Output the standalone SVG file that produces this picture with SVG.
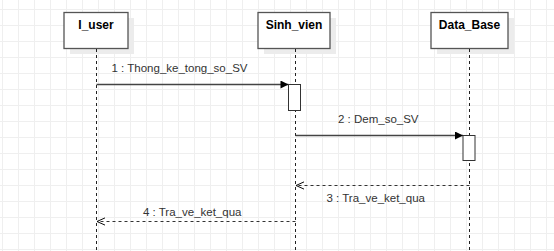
<svg xmlns="http://www.w3.org/2000/svg" width="554" height="251" viewBox="0 0 554 251">
  <defs>
    <pattern id="grid" x="2" y="9" width="16" height="16" patternUnits="userSpaceOnUse">
      <path d="M0.5 0 V16 M0 0.5 H16" fill="none" stroke="#efefef" stroke-width="1"/>
    </pattern>
    <marker id="filled" viewBox="0 0 10 10" refX="10" refY="5" markerWidth="9" markerHeight="8" markerUnits="userSpaceOnUse" orient="auto">
      <path d="M0 0 L10 5 L0 10 Z" fill="#000"/>
    </marker>
    <marker id="open" viewBox="0 0 10 10" refX="10" refY="5" markerWidth="8" markerHeight="9" markerUnits="userSpaceOnUse" orient="auto">
      <path d="M0 0.5 L10 5 L0 9.5" fill="none" stroke="#000" stroke-width="1.2"/>
    </marker>
  </defs>
  <style>
    .head { fill: #fff; stroke: #555; stroke-width: 1.3; }
    .shadow { fill: #ececec; }
    .title { font-family: "Liberation Sans", Arial, sans-serif; font-size: 12px; font-weight: bold; fill: #000; text-anchor: middle; }
    .life { stroke: #222; stroke-width: 1; stroke-dasharray: 3 3; fill: none; }
    .act { fill: #fff; stroke: #333; stroke-width: 1; }
    .msg { stroke: #444; stroke-width: 1.4; fill: none; }
    .ret { stroke: #333; stroke-width: 1; stroke-dasharray: 3 3; fill: none; }
    .label { font-family: "Liberation Sans", Arial, sans-serif; font-size: 11.5px; fill: #333; }
  </style>

  <rect width="554" height="251" fill="#fff"/>
  <rect width="554" height="251" fill="url(#grid)"/>

  <!-- lifeline heads -->
  <g id="I_user">
    <rect class="shadow" x="70" y="18" width="64" height="36"/>
    <rect class="head" x="64" y="12.5" width="64" height="36"/>
    <text class="title" x="96" y="28.5">I_user</text>
    <line class="life" x1="96.5" y1="49" x2="96.5" y2="251"/>
  </g>
  <g id="Sinh_vien">
    <rect class="shadow" x="264" y="18" width="72" height="36"/>
    <rect class="head" x="258" y="12.5" width="72" height="36"/>
    <text class="title" x="294" y="28.5">Sinh_vien</text>
    <line class="life" x1="295.5" y1="49" x2="295.5" y2="251"/>
    <rect class="act" x="288.5" y="84.5" width="12" height="26"/>
  </g>
  <g id="Data_Base">
    <rect class="shadow" x="437" y="18" width="77" height="36"/>
    <rect class="head" x="431" y="12.5" width="77" height="36"/>
    <text class="title" x="469.5" y="28.5">Data_Base</text>
    <line class="life" x1="469.5" y1="49" x2="469.5" y2="251"/>
    <rect class="act" x="463" y="135.5" width="12" height="25"/>
  </g>

  <!-- messages -->
  <g id="connectors">
    <line class="msg" x1="96.5" y1="84.5" x2="288.5" y2="84.5" marker-end="url(#filled)"/>
    <text class="label" x="111.5" y="72">1 : Thong_ke_tong_so_SV</text>

    <line class="msg" x1="295.5" y1="135.5" x2="463" y2="135.5" marker-end="url(#filled)"/>
    <text class="label" x="338" y="123">2 : Dem_so_SV</text>

    <line class="ret" x1="469.5" y1="185.5" x2="296" y2="185.5" marker-end="url(#open)"/>
    <text class="label" x="326.5" y="202">3 : Tra_ve_ket_qua</text>

    <line class="ret" x1="295.5" y1="221.5" x2="97" y2="221.5" marker-end="url(#open)"/>
    <text class="label" x="143" y="216">4 : Tra_ve_ket_qua</text>
  </g>
</svg>
